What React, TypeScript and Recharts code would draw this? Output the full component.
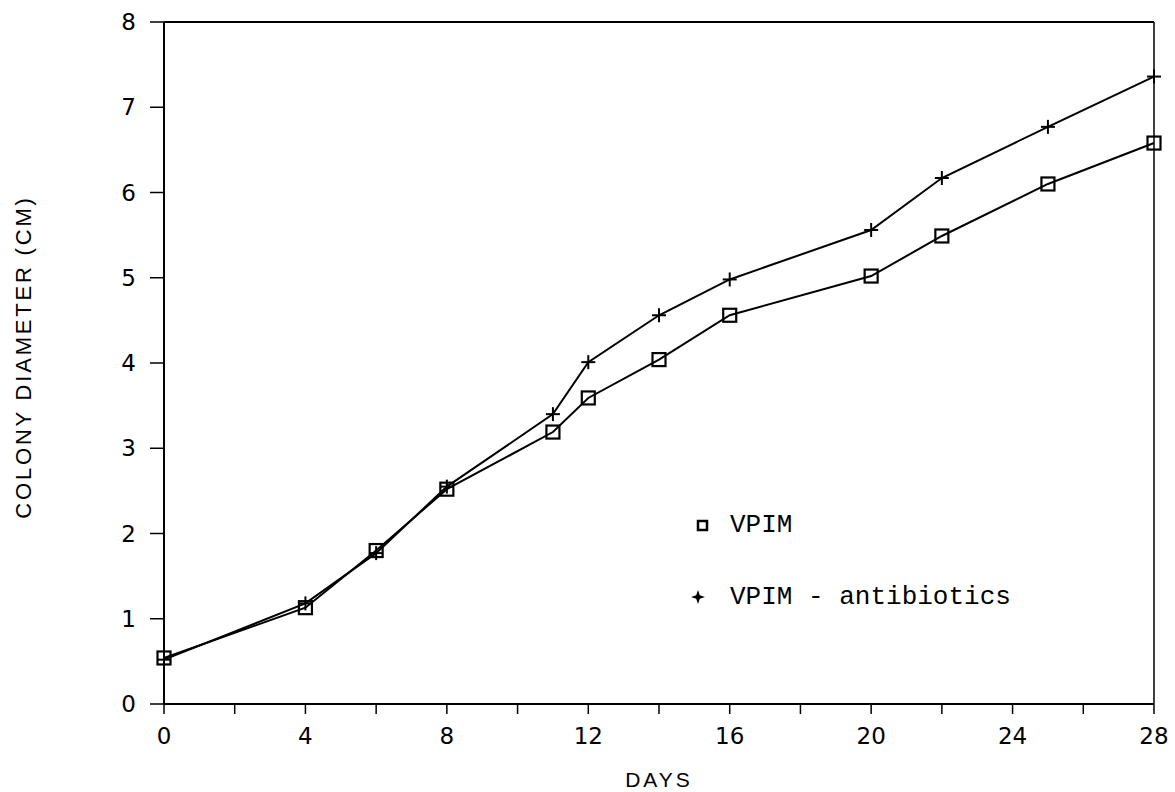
import React from 'react';
import { LineChart, Line, XAxis, YAxis, ReferenceLine } from 'recharts';

// growth readings, colony diameter in cm
const days = [0, 4, 6, 8, 11, 12, 14, 16, 20, 22, 25, 28];
const vpim = [0.54, 1.13, 1.8, 2.52, 3.19, 3.59, 4.04, 4.56, 5.02, 5.49, 6.1, 6.58];
const vpimAntibiotics = [0.52, 1.18, 1.77, 2.55, 3.4, 4.01, 4.56, 4.98, 5.56, 6.17, 6.77, 7.36];

const xTicks = [0, 2, 4, 6, 8, 10, 12, 14, 16, 18, 20, 22, 24, 26, 28];
const yTicks = [0, 1, 2, 3, 4, 5, 6, 7, 8];

const seriesNames = ['VPIM', 'VPIM - antibiotics'];

const data = days.map((d, i) => ({ day: d, vpim: vpim[i], anti: vpimAntibiotics[i] }));

const tickFont = { fontFamily: 'DejaVu Sans', fontSize: 23, fill: '#000' };

const SquareDot = (props: any) => {
  const { cx, cy } = props;
  if (cx == null || cy == null) return null;
  return <rect x={cx - 6.5} y={cy - 6.5} width={13} height={13} fill="none" stroke="#000" strokeWidth={2.2} />;
};

const PlusDot = (props: any) => {
  const { cx, cy } = props;
  if (cx == null || cy == null) return null;
  return (
    <g stroke="#000" strokeWidth={2}>
      <line x1={cx - 7} y1={cy} x2={cx + 7} y2={cy} />
      <line x1={cx} y1={cy - 7} x2={cx} y2={cy + 7} />
    </g>
  );
};

// legend drawn over the plot, like the original figure
const LegendBox = () => (
  <div
    style={{
      position: 'absolute',
      left: 690,
      top: 507,
      fontFamily: 'Liberation Mono',
      fontSize: 26,
      color: '#000',
      lineHeight: '36px',
    }}
  >
    <div style={{ display: 'flex', alignItems: 'center', height: 36 }}>
      <svg width={40} height={20}>
        <rect x={8} y={6} width={9} height={9} fill="none" stroke="#000" strokeWidth={2.5} />
      </svg>
      <span>{seriesNames[0]}</span>
    </div>
    <div style={{ display: 'flex', alignItems: 'center', height: 36, marginTop: 36 }}>
      <svg width={40} height={20}>
        <path d="M8 3 L9.8 8.2 L15 10 L9.8 11.8 L8 17 L6.2 11.8 L1 10 L6.2 8.2 Z" fill="#000" />
      </svg>
      <span>{seriesNames[1]}</span>
    </div>
  </div>
);

const YLabel = (props: any) => {
  const vb = props.viewBox || {};
  const x = 23;
  const y = (vb.y ?? 22) + (vb.height ?? 682) / 2 - 6;
  return (
    <text
      x={x}
      y={y}
      transform={`rotate(-90 ${x} ${y})`}
      textAnchor="middle"
      dominantBaseline="central"
      style={{ fontFamily: 'Liberation Sans', fontSize: 22, letterSpacing: 2.8 }}
      fill="#000"
    >
      COLONY DIAMETER (CM)
    </text>
  );
};

export default function App() {
  return (
    <div style={{ position: 'absolute', left: 0, top: 0, width: 1175, height: 792, background: '#fff' }}>
      <LineChart width={1175} height={792} data={data} margin={{ top: 22, right: 21, left: 104, bottom: 58 }}>
        <XAxis
          dataKey="day"
          type="number"
          domain={[0, 28]}
          ticks={xTicks}
          interval={0}
          tickFormatter={(v: number) => (v % 4 === 0 ? String(v) : '')}
          axisLine={{ stroke: '#000', strokeWidth: 2 }}
          tickLine={{ stroke: '#000', strokeWidth: 1.5 }}
          tickSize={10}
          tickMargin={14}
          tick={tickFont}
          height={30}
          label={{
            value: 'DAYS',
            position: 'bottom',
            offset: 38,
            style: { fontFamily: 'Liberation Sans', fontSize: 21, letterSpacing: 3, fill: '#000' },
          }}
        />
        <YAxis
          type="number"
          domain={[0, 8]}
          ticks={yTicks}
          interval={0}
          width={60}
          axisLine={{ stroke: '#000', strokeWidth: 2 }}
          tickLine={{ stroke: '#000', strokeWidth: 1.5 }}
          tickSize={14}
          tickMargin={14}
          tick={tickFont}
          label={<YLabel />}
        />
        <ReferenceLine y={8} stroke="#000" strokeWidth={2} />
        <ReferenceLine x={28} stroke="#000" strokeWidth={1.5} />
        <Line
          type="linear"
          dataKey="vpim"
          name={seriesNames[0]}
          stroke="#000"
          strokeWidth={2}
          dot={<SquareDot />}
          activeDot={false}
          isAnimationActive={false}
        />
        <Line
          type="linear"
          dataKey="anti"
          name={seriesNames[1]}
          stroke="#000"
          strokeWidth={2}
          dot={<PlusDot />}
          activeDot={false}
          isAnimationActive={false}
        />
      </LineChart>
      <LegendBox />
    </div>
  );
}
